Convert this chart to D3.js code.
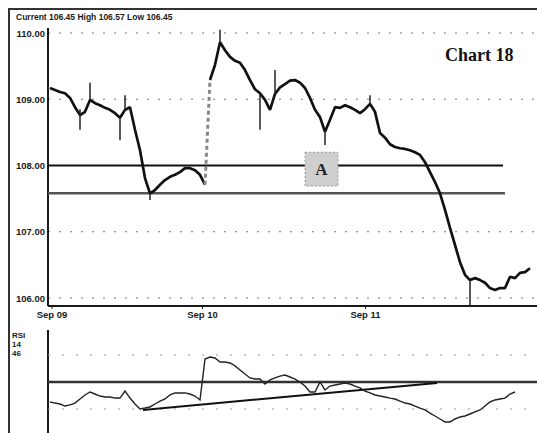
<!DOCTYPE html>
<html><head><meta charset="utf-8">
<script src="https://cdn.jsdelivr.net/npm/d3@7"></script>
<style>body{margin:0;background:#fff}svg{display:block}</style>
</head><body><svg id="c" width="537" height="433"></svg>
<script>
// ---- data ----
const headerText = "Current 106.45  High 106.57  Low 106.45";
const chartTitle = "Chart 18";
const closes = [109.17,109.14,109.11,109.09,109.02,108.88,108.76,108.81,108.99,108.94,
108.91,108.87,108.84,108.79,108.72,108.84,108.88,108.54,108.23,107.81,
107.58,107.63,107.71,107.78,107.83,107.86,107.90,107.96,107.96,107.93,
107.86,107.71,109.29,109.52,109.86,109.74,109.64,109.58,109.55,109.44,
109.29,109.15,109.09,108.99,108.84,109.08,109.18,109.23,109.28,109.29,
109.25,109.17,109.02,108.84,108.73,108.51,108.69,108.88,108.87,108.91,
108.88,108.84,108.79,108.85,108.93,108.81,108.49,108.42,108.32,108.28,
108.26,108.25,108.23,108.20,108.16,108.05,107.90,107.75,107.58,107.33,
107.06,106.80,106.54,106.35,106.27,106.30,106.27,106.23,106.15,106.12,
106.15,106.15,106.32,106.30,106.38,106.39,106.45];
const gapAfter = 31; // price gap between bar 31 and 32
const wickIdx  = [6, 8, 14, 15, 20, 34, 42, 45, 55, 64, 84];
const wickHigh = [108.85,109.25,108.72,109.06,107.58,110.05,109.09,109.44,108.51,109.06,106.27];
const wickLow  = [108.54,108.99,108.38,108.84,107.48,109.86,108.54,109.08,108.31,108.93,105.89];
const rsi = [35.2,34.4,33.7,32.2,33.0,34.4,37.4,40.4,42.6,41.1,39.6,38.9,38.9,38.1,38.1,43.3,
38.1,33.7,30.0,30.7,31.5,33.7,35.9,37.4,40.4,41.9,41.9,41.9,41.1,39.6,36.7,67.0,
68.5,67.8,64.8,64.8,64.1,61.9,58.9,55.9,53.0,52.2,52.2,48.5,51.5,53.0,54.4,55.2,
53.7,52.2,50.0,47.0,42.6,42.6,50.0,44.1,47.0,47.8,48.5,49.3,48.5,47.0,45.6,43.3,
41.9,40.4,39.6,38.9,38.1,37.4,35.9,34.4,33.7,32.2,30.7,29.3,27.0,24.8,22.6,20.4,
20.4,22.6,24.1,24.8,26.3,27.8,29.3,32.2,35.2,36.7,37.4,38.1,41.1,42.6];
const priceTicks = [110,109,108,107,106];
const priceTickLabels = ["110.00","109.00","108.00","107.00","106.00"];
const dateTicks = [0.3, 30.4, 63];
const dateLabels = ["Sep 09","Sep 10","Sep 11"];
const supportLevels = [108.00, 107.58];
const supportEnds = [90.6, 91];
const rsiGrid = [30, 70];
const rsiMid = 50;
const rsiTrendX = [18.6, 77.4];
const rsiTrendY = [29.3, 49.3];
const rsiLabels = ["RSI","14","46"];
const boxA = {i0: 51, i1: 57.6, hi: 108.20, lo: 107.69, label: "A"};

// ---- scales ----
const svg = d3.select("#c");
const x = d3.scaleLinear().domain([0, 96]).range([50, 530]);
const y = d3.scaleLinear().domain([106, 110]).range([298, 33]);
const yr = d3.scaleLinear().domain([30, 70]).range([409, 355]);
const axisX0 = 48, dark = "#1a1a1a";
const lblFont = "'Liberation Sans', Arial, sans-serif";

// frame
svg.append("line").attr("x1",9).attr("x2",9).attr("y1",8).attr("y2",433).attr("stroke","#333").attr("stroke-width",2);
svg.append("line").attr("x1",8).attr("x2",537).attr("y1",9).attr("y2",9).attr("stroke","#333").attr("stroke-width",2);
svg.append("text").attr("x",16).attr("y",20).attr("font-family",lblFont).attr("font-weight","bold")
  .attr("font-size",8.5).attr("fill",dark).text(headerText);

// price gridlines (dotted)
svg.append("g").selectAll("line").data(priceTicks.filter(v => v !== 108)).join("line")
  .attr("x1",axisX0).attr("x2",537).attr("y1",d=>y(d)).attr("y2",d=>y(d))
  .attr("stroke","#777").attr("stroke-width",1).attr("stroke-dasharray","2,9");

// price y-axis
const yAxis = d3.axisLeft(y).tickValues(priceTicks).tickFormat((d,i)=>priceTickLabels[i]).tickSize(0).tickPadding(3);
const gy = svg.append("g").attr("transform",`translate(${axisX0},0)`).call(yAxis);
gy.select(".domain").remove();
gy.selectAll("text").attr("font-family",lblFont).attr("font-weight","bold").attr("font-size",9.5).attr("fill",dark);
svg.append("line").attr("x1",axisX0).attr("x2",axisX0).attr("y1",28).attr("y2",306).attr("stroke",dark).attr("stroke-width",2);
svg.append("line").attr("x1",axisX0).attr("x2",537).attr("y1",306).attr("y2",306).attr("stroke",dark).attr("stroke-width",2);

// x axis labels
const xAxis = d3.axisBottom(x).tickValues(dateTicks).tickFormat((d,i)=>dateLabels[i]).tickSize(3).tickPadding(2);
const gx = svg.append("g").attr("transform","translate(0,306)").call(xAxis);
gx.select(".domain").remove();
gx.selectAll("line").attr("stroke",dark);
gx.selectAll("text").attr("font-family",lblFont).attr("font-weight","bold").attr("font-size",9.5).attr("fill",dark);

// support lines
svg.append("line").attr("x1",axisX0).attr("x2",x(supportEnds[0])).attr("y1",y(supportLevels[0])).attr("y2",y(supportLevels[0]))
  .attr("stroke","#111").attr("stroke-width",2);
svg.append("line").attr("x1",axisX0).attr("x2",x(supportEnds[1])).attr("y1",y(supportLevels[1])).attr("y2",y(supportLevels[1]))
  .attr("stroke","#555").attr("stroke-width",2.5);

// box A
svg.append("rect").attr("x",x(boxA.i0)).attr("y",y(boxA.hi)).attr("width",x(boxA.i1)-x(boxA.i0)).attr("height",y(boxA.lo)-y(boxA.hi))
  .attr("fill","#cfcfcf").attr("stroke","#999").attr("stroke-dasharray","2,2");
svg.append("text").attr("x",(x(boxA.i0)+x(boxA.i1))/2).attr("y",(y(boxA.hi)+y(boxA.lo))/2+6)
  .attr("text-anchor","middle").attr("font-family","'Liberation Serif', serif").attr("font-weight","bold")
  .attr("font-size",17).attr("fill","#222").text(boxA.label);

// price line
const pts = closes.map((c,i)=>[i,c]);
const line = d3.line().x(d=>x(d[0])).y(d=>y(d[1]));
svg.append("path").attr("d",line(pts.slice(0,gapAfter+1))).attr("fill","none").attr("stroke","#111").attr("stroke-width",2.7).attr("stroke-linejoin","bevel");
svg.append("path").attr("d",line(pts.slice(gapAfter+1))).attr("fill","none").attr("stroke","#111").attr("stroke-width",2.7).attr("stroke-linejoin","bevel");
svg.append("path").attr("d",line(pts.slice(gapAfter,gapAfter+2))).attr("fill","none").attr("stroke","#888").attr("stroke-width",3).attr("stroke-dasharray","4,3");
svg.append("g").selectAll("line").data(wickIdx).join("line")
  .attr("x1",d=>x(d)).attr("x2",d=>x(d)).attr("y1",(d,i)=>y(wickHigh[i])).attr("y2",(d,i)=>y(wickLow[i]))
  .attr("stroke","#222").attr("stroke-width",1.5);

// title
svg.append("text").attr("x",445).attr("y",61).attr("font-family","'Liberation Serif', 'DejaVu Serif', serif")
  .attr("font-size",18).attr("font-weight","bold").attr("fill","#111").text(chartTitle);

// ---- lower panel ----
svg.append("line").attr("x1",axisX0).attr("x2",axisX0).attr("y1",330).attr("y2",433).attr("stroke",dark).attr("stroke-width",2);
svg.append("g").selectAll("line").data(rsiGrid).join("line")
  .attr("x1",axisX0).attr("x2",537).attr("y1",d=>yr(d)).attr("y2",d=>yr(d))
  .attr("stroke","#999").attr("stroke-dasharray","2,12");
svg.append("line").attr("x1",axisX0).attr("x2",537).attr("y1",yr(rsiMid)).attr("y2",yr(rsiMid)).attr("stroke","#333").attr("stroke-width",2.5);
svg.append("g").selectAll("text").data(rsiLabels).join("text")
  .attr("x",12).attr("y",(d,i)=>338+i*9).attr("font-family",lblFont).attr("font-weight","bold").attr("font-size",8).attr("fill",dark).text(d=>d);
svg.append("line").attr("x1",x(rsiTrendX[0])).attr("x2",x(rsiTrendX[1])).attr("y1",yr(rsiTrendY[0])).attr("y2",yr(rsiTrendY[1]))
  .attr("stroke","#111").attr("stroke-width",2);
svg.append("path").attr("d",d3.line().x((d,i)=>x(i)).y(d=>yr(d))(rsi)).attr("fill","none").attr("stroke","#222").attr("stroke-width",1.4);
</script></body></html>
